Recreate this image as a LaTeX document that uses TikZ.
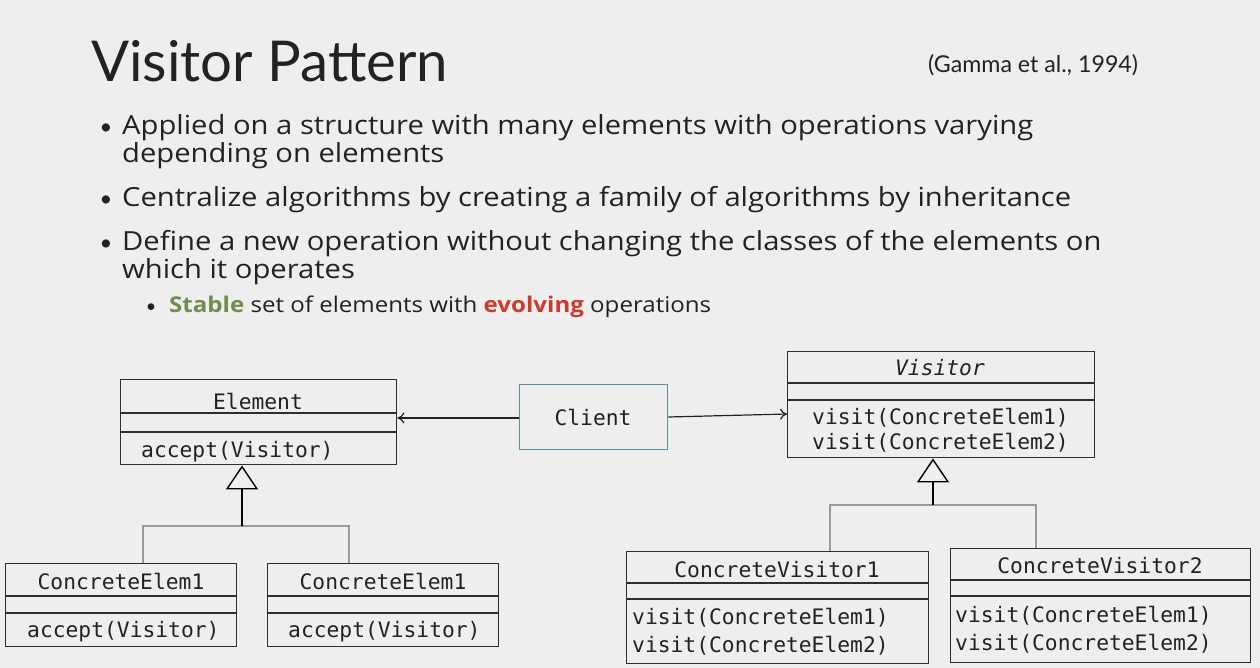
\documentclass[tikz,border=0pt]{standalone}
\usepackage{fontspec}
\setmainfont{Lato}
\newfontfamily\bodyfont{Open Sans}[FakeStretch=1.11]
\newfontfamily\monofont{DejaVu Sans Mono}
\usetikzlibrary{arrows.meta,calc}

\definecolor{slidebg}{HTML}{EEEEEE}
\definecolor{ink}{HTML}{222222}
\definecolor{boxline}{HTML}{2E2E2E}
\definecolor{clientline}{HTML}{5F8C9C}
\definecolor{branchgray}{HTML}{9A9A9A}
\definecolor{stablegreen}{HTML}{718C4C}
\definecolor{evolvred}{HTML}{CC3A30}

\tikzset{
  classbox/.style={draw=boxline, line width=1.4pt, anchor=north west, inner sep=0pt},
  clientbox/.style={draw=clientline, line width=1.4pt, anchor=north west, inner sep=0pt},
  sepline/.style={draw=boxline, line width=1.2pt},
  mono/.style={font=\monofont\fontsize{21.3}{25}\selectfont, text=ink, inner sep=0pt},
  bodytext/.style={font=\bodyfont\fontsize{26.3}{26}\selectfont, text=ink, inner sep=0pt, anchor=base west},
  subtext/.style={font=\bodyfont\fontsize{21.7}{22}\selectfont, text=ink, inner sep=0pt, anchor=base west},
  dotmark/.style={font=\fontsize{22}{22}\selectfont, text=ink, inner sep=0pt, anchor=base},
  assoc/.style={draw=ink, line width=1.2pt, -{To[length=7pt,width=11pt]}},
  stem/.style={draw=black, line width=2pt, -{Triangle[open,length=24pt,width=32pt,line width=1.4pt]}},
  branch/.style={draw=branchgray, line width=1.2pt},
}

\begin{document}
\begin{tikzpicture}[x=1pt,y=-1pt]
  \fill[slidebg] (0,0) rectangle (1260,668);
  \useasboundingbox (0,0) rectangle (1260,668);

  % heading and citation
  \node[font=\fontsize{56.3}{56}\selectfont, text=ink, inner sep=0pt, anchor=base west] (title) at (91,82) {Visitor Pattern};
  \node[font=\fontsize{23.2}{23}\selectfont, text=ink, inner sep=0pt, anchor=base west] (cite) at (928,73) {(Gamma et al., 1994)};

  % bullet list
  \node[dotmark] (d1) at (106,135) {•};
  \node[bodytext] (b1a) at (122,135) {Applied on a structure with many elements with operations varying};
  \node[bodytext] (b1b) at (122,162.5) {depending on elements};
  \node[dotmark] (d2) at (106,207) {•};
  \node[bodytext] (b2) at (122,207) {Centralize algorithms by creating a family of algorithms by inheritance};
  \node[dotmark] (d3) at (106,251) {•};
  \node[bodytext] (b3a) at (122,251) {Define a new operation without changing the classes of the elements on};
  \node[bodytext] (b3b) at (122,278.5) {which it operates};
  \node[dotmark, font=\fontsize{18}{18}\selectfont] (d4) at (151,312) {•};
  \node[subtext] (b4) at (169,312) {\textcolor{stablegreen}{\bfseries Stable} set of elements with \textcolor{evolvred}{\bfseries evolving} operations};

  % class boxes
  \node[classbox, minimum width=276pt, minimum height=85pt] (elem) at (120,379) {};
  \node[clientbox, minimum width=148pt, minimum height=65pt] (client) at (519,384) {};
  \node[classbox, minimum width=307pt, minimum height=106pt] (visitor) at (787,351) {};
  \node[classbox, minimum width=231pt, minimum height=83pt] (ce1) at (5,563) {};
  \node[classbox, minimum width=231pt, minimum height=83pt] (ce2) at (267,563) {};
  \node[classbox, minimum width=302pt, minimum height=112pt] (cv1) at (626,551) {};
  \node[classbox, minimum width=300pt, minimum height=114pt] (cv2) at (950,548) {};

  % compartment separators
  \foreach \b/\one/\two in {elem/34/53, visitor/32/49, ce1/33/50, ce2/33/50, cv1/32/48, cv2/32/48}{
    \draw[sepline] ($(\b.north west)+(0,\one)$) -- ($(\b.north east)+(0,\one)$);
    \draw[sepline] ($(\b.north west)+(0,\two)$) -- ($(\b.north east)+(0,\two)$);
  }

  % class names and operations
  \node[mono, anchor=base] (elemname) at (258,409) {Element};
  \node[mono, anchor=base west] (elemop) at (141,457) {accept(Visitor)};
  \node[mono, anchor=base] (clientname) at (593,425) {Client};
  \node[mono, anchor=base] (visname) at (940,375) {\itshape Visitor};
  \node[mono, anchor=base west] (visop1) at (812,424) {visit(ConcreteElem1)};
  \node[mono, anchor=base west] (visop2) at (812,449) {visit(ConcreteElem2)};
  \node[mono, anchor=base] (ce1name) at (121,589) {ConcreteElem1};
  \node[mono, anchor=base west] (ce1op) at (27,637) {accept(Visitor)};
  \node[mono, anchor=base] (ce2name) at (383,589) {ConcreteElem1};
  \node[mono, anchor=base west] (ce2op) at (288,637) {accept(Visitor)};
  \node[mono, anchor=base] (cv1name) at (777,577) {ConcreteVisitor1};
  \node[mono, anchor=base west] (cv1op1) at (632,624) {visit(ConcreteElem1)};
  \node[mono, anchor=base west] (cv1op2) at (632,652) {visit(ConcreteElem2)};
  \node[mono, anchor=base] (cv2name) at (1100,573) {ConcreteVisitor2};
  \node[mono, anchor=base west] (cv2op1) at (955,622) {visit(ConcreteElem1)};
  \node[mono, anchor=base west] (cv2op2) at (955,650) {visit(ConcreteElem2)};

  % client associations
  \draw[assoc] (client.west |- 0,418) -- (elem.east |- 0,418);
  \draw[assoc] (client.east |- 0,417) -- (visitor.west |- 0,414);

  % element hierarchy
  \coordinate (ejoin) at (242,526);
  \draw[branch] (ce1.north -| 143,0) |- (ejoin) -| (ce2.north -| 349,0);
  \draw[stem] (ejoin) -- (ejoin |- elem.south);

  % visitor hierarchy
  \coordinate (vjoin) at (933,505);
  \draw[branch] (cv1.north -| 830,0) |- (vjoin) -| (cv2.north -| 1036,0);
  \draw[stem] (vjoin) -- (vjoin |- visitor.south);
\end{tikzpicture}
\end{document}
